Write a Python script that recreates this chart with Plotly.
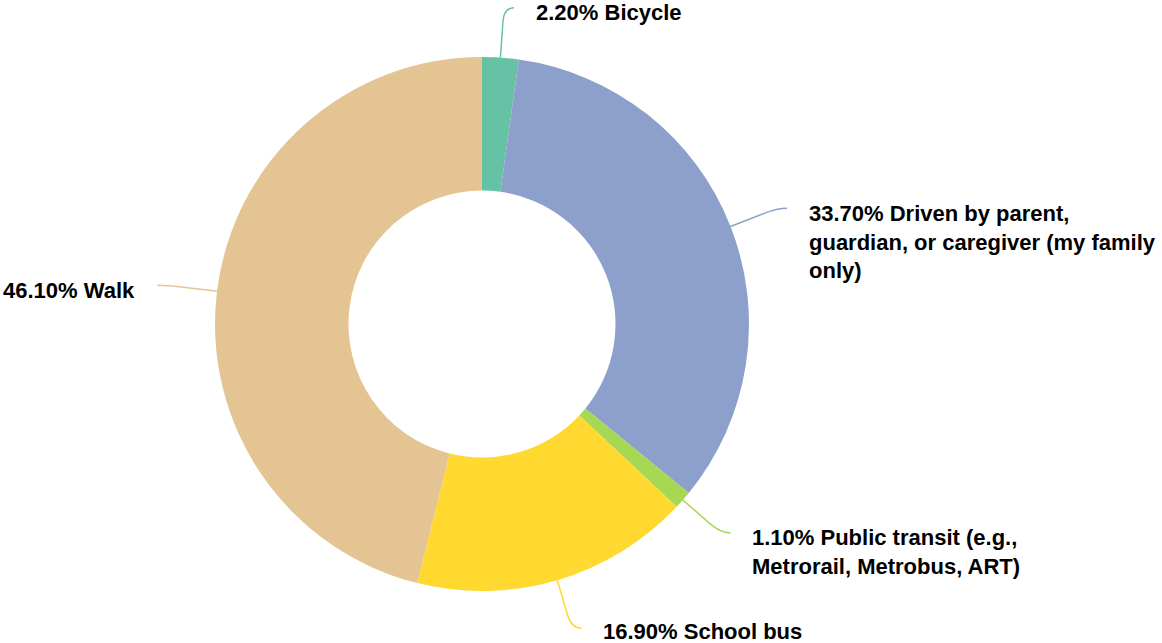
import math
import plotly.graph_objects as go

categories = ["Bicycle", "Driven by parent, guardian, or caregiver (my family only)",
              "Public transit (e.g., Metrorail, Metrobus, ART)", "School bus", "Walk"]
values = [2.2, 33.7, 1.1, 16.9, 46.1]
label_lines = [
    ["2.20% Bicycle"],
    ["33.70% Driven by parent,", "guardian, or caregiver (my family", "only)"],
    ["1.10% Public transit (e.g.,", "Metrorail, Metrobus, ART)"],
    ["16.90% School bus"],
    ["46.10% Walk"],
]
colors = ["#66c2a5", "#8da0cb", "#a6d854", "#ffd92f", "#e5c494"]

W, H = 1162, 643
CX, CY, R = 482, 324, 267
FS = 22
LH = 1.3 * FS

dom_x = [(CX - R) / W, (CX + R) / W]
dom_y = [1 - (CY + R) / H, 1 - (CY - R) / H]

fig = go.Figure(go.Pie(
    labels=categories, values=values, hole=0.5, sort=False,
    direction="clockwise", rotation=0, textinfo="none",
    marker=dict(colors=colors, line=dict(width=0)),
    domain=dict(x=dom_x, y=dom_y), showlegend=False,
))

def px(x):
    return x / W

def py(y):
    return 1 - y / H

total = sum(values)
cum = 0.0
shapes = []
annotations = []
for v, lines, col in zip(values, label_lines, colors):
    mid = (cum + v / 2) / total * 2 * math.pi
    cum += v
    sx, sy = math.sin(mid), -math.cos(mid)
    p0 = (CX + R * sx, CY + R * sy)
    pa = (CX + (R + 36) * sx, CY + (R + 36) * sy)
    p1 = (CX + (R + 50) * sx, CY + (R + 50) * sy)
    side = 1 if sx >= 0 else -1
    p2 = (p1[0] + side * 10, p1[1])
    path = (f"M {px(p0[0])},{py(p0[1])} L {px(pa[0])},{py(pa[1])} "
            f"Q {px(p1[0])},{py(p1[1])} {px(p2[0])},{py(p2[1])}")
    shapes.append(dict(type="path", path=path, xref="paper", yref="paper",
                       line=dict(color=col, width=1.5)))
    n = len(lines)
    yc = min(p2[1] + 5 + (n - 1) * LH / 2, H - 12)
    tx = p2[0] + side * 21
    annotations.append(dict(
        text="<br>".join(lines), x=px(tx), y=py(yc), xref="paper", yref="paper",
        xanchor="left" if side > 0 else "right", yanchor="middle",
        align="left", showarrow=False, borderpad=0,
        font=dict(family="Liberation Sans, Arial, sans-serif", size=FS, color="#000000", weight="bold"),
    ))

fig.update_layout(
    width=W, height=H, margin=dict(l=0, r=0, t=0, b=0),
    paper_bgcolor="white", plot_bgcolor="white",
    shapes=shapes, annotations=annotations,
)
fig.write_html(
    "out.html",
    config={"displayModeBar": False},
    post_script="document.body.style.margin='0px';document.body.style.overflow='hidden';",
)
